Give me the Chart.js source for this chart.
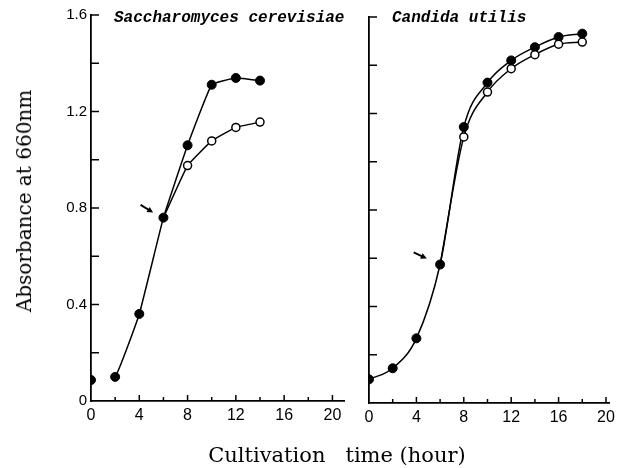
<!DOCTYPE html>
<html>
<head>
<meta charset="utf-8">
<script src="https://cdn.jsdelivr.net/npm/chart.js@4"></script>
<style>
  body { margin: 0; background: #fff; }
  #wrap { position: relative; width: 620px; height: 468px; overflow: hidden; }
  canvas { position: absolute; top: 0; }
  .panelTitle { position: absolute; font-family: "Liberation Mono", monospace; font-style: italic; font-weight: bold; font-size: 16px; color: #000; white-space: pre; }
  #yTitle { position: absolute; font-family: "DejaVu Serif", serif; font-size: 20px; color: #000; white-space: pre;
            left: 24px; top: 201px; transform: translate(-50%, -50%) rotate(-90deg); }
  #xTitle { position: absolute; font-family: "DejaVu Serif", serif; font-size: 21px; color: #000; white-space: pre;
            left: 337px; top: 455px; transform: translate(-50%, -50%); }
</style>
</head>
<body>
<div id="wrap">
  <canvas id="left" width="350" height="468" style="left:0"></canvas>
  <canvas id="right" width="270" height="468" style="left:350px"></canvas>
  <div class="panelTitle" style="left:114px; top:9px">Saccharomyces cerevisiae</div>
  <div class="panelTitle" style="left:392px; top:9px">Candida utilis</div>
  <div id="yTitle">Absorbance at 660nm</div>
  <div id="xTitle">Cultivation   time (hour)</div>
</div>
<script>
// tick values
const xTicks = [0, 2, 4, 6, 8, 10, 12, 14, 16, 18, 20];
const yTicks = [0, 0.2, 0.4, 0.6, 0.8, 1.0, 1.2, 1.4, 1.6];

// Saccharomyces cerevisiae
const scHours = [0, 2, 4, 6, 8, 10, 12, 14];
const scFilled = [0.087, 0.10, 0.361, 0.76, 1.06, 1.311, 1.339, 1.328];
const scOpenHours = [6, 8, 10, 12, 14];
const scOpen = [0.76, 0.976, 1.078, 1.134, 1.156];

// Candida utilis
const cuHours = [0, 2, 4, 6, 8, 10, 12, 14, 16, 18];
const cuFilled = [0.098, 0.144, 0.268, 0.574, 1.144, 1.328, 1.42, 1.475, 1.517, 1.531];
const cuOpenHours = [6, 8, 10, 12, 14, 16, 18];
const cuOpen = [0.574, 1.103, 1.289, 1.386, 1.444, 1.487, 1.496];

// arrows (tail, head) in data units
const scArrow = [[4.11, 0.813], [5.15, 0.781]];
const cuArrow = [[3.77, 0.624], [4.88, 0.599]];

const pts = (xs, ys) => xs.map((x, i) => ({ x: x, y: ys[i] }));

// inward ticks + arrow
const tickPlugin = {
  id: "inTicks",
  afterDraw(chart, args, opts) {
    const ctx = chart.ctx;
    const xs = chart.scales.x, ys = chart.scales.y;
    const area = chart.chartArea;
    ctx.save();
    ctx.strokeStyle = "#000";
    ctx.lineWidth = 1.5;
    xs.ticks.forEach(t => {
      if (t.value === 0) return;
      const px = xs.getPixelForValue(t.value);
      const len = t.value % 4 === 0 ? 6 : 4;
      ctx.beginPath();
      ctx.moveTo(px, area.bottom);
      ctx.lineTo(px, area.bottom - len);
      ctx.stroke();
    });
    ys.ticks.forEach(t => {
      if (t.value === 0) return;
      const py = ys.getPixelForValue(t.value);
      ctx.beginPath();
      ctx.moveTo(area.left, py);
      ctx.lineTo(area.left + 8, py);
      ctx.stroke();
    });
    // arrow
    const a = opts.arrow;
    if (a) {
      const x1 = xs.getPixelForValue(a[0][0]), y1 = ys.getPixelForValue(a[0][1]);
      const x2 = xs.getPixelForValue(a[1][0]), y2 = ys.getPixelForValue(a[1][1]);
      const ang = Math.atan2(y2 - y1, x2 - x1);
      ctx.lineWidth = 2;
      ctx.beginPath();
      ctx.moveTo(x1, y1);
      ctx.lineTo(x2 - 4 * Math.cos(ang), y2 - 4 * Math.sin(ang));
      ctx.stroke();
      ctx.fillStyle = "#000";
      ctx.beginPath();
      ctx.moveTo(x2, y2);
      ctx.lineTo(x2 - 6 * Math.cos(ang) + 3 * Math.sin(ang), y2 - 6 * Math.sin(ang) - 3 * Math.cos(ang));
      ctx.lineTo(x2 - 6 * Math.cos(ang) - 3 * Math.sin(ang), y2 - 6 * Math.sin(ang) + 3 * Math.cos(ang));
      ctx.closePath();
      ctx.fill();
    }
    ctx.restore();
  }
};

function makeChart(id, opt) {
  const filledDs = {
    data: pts(opt.hours, opt.filled),
    borderColor: "#000",
    borderWidth: 1.5,
    backgroundColor: "#000",
    pointBackgroundColor: "#000",
    pointBorderColor: "#000",
    pointRadius: 4.5,
    pointBorderWidth: 1,
    tension: opt.tension,
    cubicInterpolationMode: opt.mode,
    segment: opt.skipFirst ? { borderColor: c => c.p0DataIndex === 0 ? "rgba(0,0,0,0)" : "#000" } : undefined
  };
  const openDs = {
    data: pts(opt.openHours, opt.open),
    borderColor: "#000",
    borderWidth: 1.5,
    pointBackgroundColor: "#fff",
    pointBorderColor: "#000",
    pointBorderWidth: 1.5,
    pointRadius: opt.open.map((v, i) => i === 0 ? 0 : 4),
    tension: opt.tension,
    cubicInterpolationMode: opt.mode
  };
  return new Chart(document.getElementById(id), {
    type: "line",
    data: { datasets: [openDs, filledDs] },
    plugins: [tickPlugin],
    options: {
      responsive: false,
      animation: false,
      devicePixelRatio: 1,
      layout: { padding: { top: opt.top, right: opt.right, left: 0, bottom: 0 } },
      plugins: {
        legend: { display: false },
        tooltip: { enabled: false },
        inTicks: { arrow: opt.arrow }
      },
      scales: {
        x: {
          type: "linear",
          min: 0,
          max: opt.xMax,
          afterBuildTicks: s => { s.ticks = xTicks.map(v => ({ value: v })); },
          afterFit: s => { s.height = opt.xH; },
          ticks: {
            autoSkip: false,
            maxRotation: 0,
            padding: 5,
            color: "#000",
            font: { family: "Liberation Sans", size: 16 },
            callback: v => v % 4 === 0 ? String(v) : ""
          },
          grid: { display: true, drawOnChartArea: false, drawTicks: false },
          border: { display: true, color: "#000", width: 1.8 }
        },
        y: {
          min: 0,
          max: 1.6,
          afterBuildTicks: s => { s.ticks = yTicks.map(v => ({ value: v })); },
          afterFit: s => { s.width = opt.yW; },
          ticks: {
            display: opt.showY,
            padding: 4,
            color: "#000",
            font: { family: "Liberation Sans", size: 15 },
            callback: v => {
              const k = Math.round(v * 10);
              if (k % 4 !== 0) return "";
              return k === 0 ? "0" : (k / 10).toFixed(1);
            }
          },
          grid: { display: true, drawOnChartArea: false, drawTicks: false },
          border: { display: true, color: "#000", width: 1.8 }
        }
      }
    }
  });
}

makeChart("left", {
  hours: scHours, filled: scFilled, openHours: scOpenHours, open: scOpen,
  tension: 0.1, mode: "default", skipFirst: true, arrow: scArrow,
  xMax: 21, xH: 67, yW: 91, top: 15, right: 5, showY: true
});

makeChart("right", {
  hours: cuHours, filled: cuFilled, openHours: cuOpenHours, open: cuOpen,
  tension: 0.4, mode: "monotone", skipFirst: false, arrow: cuArrow,
  xMax: 20.3, xH: 65, yW: 19, top: 17, right: 8.4, showY: false
});
</script>
</body>
</html>
